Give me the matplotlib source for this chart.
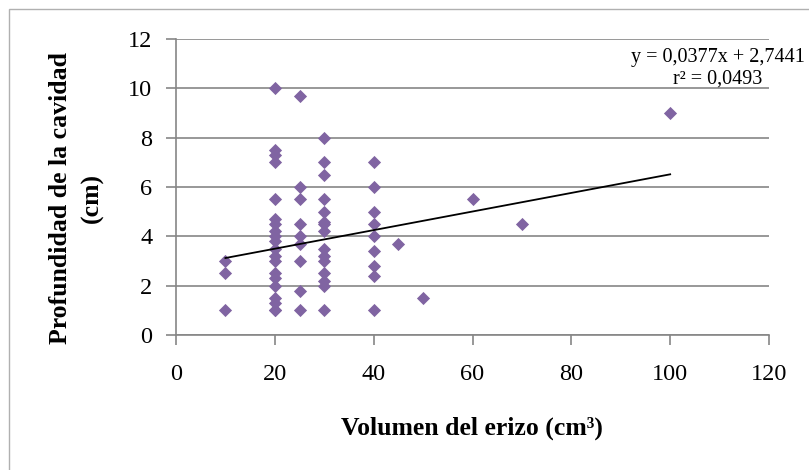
import matplotlib.pyplot as plt
import matplotlib.patches as mpatches
import numpy as np

plt.rcParams['font.family'] = ['Liberation Serif', 'DejaVu Serif']

# volumen del erizo (cm3) and profundidad de la cavidad (cm)
vol_10 = [10, 10, 10]
prof_10 = [3.0, 2.5, 1.0]
vol_20 = [20] * 20
prof_20 = [10.0, 7.5, 7.3, 7.0, 5.5, 4.7, 4.5, 4.2, 4.0, 3.8,
           3.5, 3.2, 3.0, 2.5, 2.3, 2.0, 1.5, 1.3, 1.0, 1.0]
vol_25 = [25] * 9
prof_25 = [9.7, 6.0, 5.5, 4.5, 4.0, 3.7, 3.0, 1.8, 1.0]
vol_30 = [30] * 15
prof_30 = [8.0, 7.0, 6.5, 5.5, 5.0, 4.6, 4.5, 4.2, 3.5, 3.2,
           3.0, 2.5, 2.2, 2.0, 1.0]
vol_40 = [40] * 9
prof_40 = [7.0, 6.0, 5.0, 4.5, 4.0, 3.4, 2.8, 2.4, 1.0]
vol_other = [45, 50, 60, 70, 100]
prof_other = [3.7, 1.5, 5.5, 4.5, 9.0]

slope = 0.0377
intercept = 2.7441
r2 = 0.0493

x = np.array(vol_10 + vol_20 + vol_25 + vol_30 + vol_40 + vol_other)
y = np.array(prof_10 + prof_20 + prof_25 + prof_30 + prof_40 + prof_other)

fig = plt.figure(figsize=(8.09, 4.70), dpi=100)
ax = fig.add_axes([176 / 809, 1 - 335 / 470, 593 / 809, 296 / 470])

grid_c = '#868686'
ax.set_xlim(0, 120)
ax.set_ylim(0, 12)
ax.set_xticks(np.arange(0, 121, 20))
ax.set_yticks(np.arange(0, 13, 2))
ax.yaxis.grid(True, color=grid_c, linewidth=1.2)
ax.set_axisbelow(True)
for s in ['top', 'right']:
    ax.spines[s].set_visible(False)
for s in ['left', 'bottom']:
    ax.spines[s].set_color(grid_c)
    ax.spines[s].set_linewidth(1.2)
ax.tick_params(axis='both', colors=grid_c, length=7, width=1.2, labelsize=17.5,
               labelcolor='black')
ax.tick_params(axis='y', pad=10)
ax.tick_params(axis='x', pad=14)

ax.scatter(x, y, marker='D', s=45, color='#8064A2', zorder=3, linewidths=0)

xf = np.array([x.min(), x.max()])
ax.plot(xf, slope * xf + intercept, color='black', linewidth=1.3, zorder=4)

fig.text(718 / 809, 1 - 68 / 470,
         f'y = {slope:.4f}x + {intercept:.4f}\nr² = {r2:.4f}'.replace('.', ','),
         ha='center', va='center', fontsize=14.5, linespacing=1.15)

ax.set_xlabel('Volumen del erizo (cm³)', fontsize=18.5, fontweight='bold')
ax.xaxis.set_label_coords((472 - 176) / 593, (335 - 417) / 296)
ax.set_ylabel('Profundidad de la cavidad\n(cm)', fontsize=18.5, fontweight='bold',
              linespacing=1.45)
ax.yaxis.set_label_coords((104 - 176) / 593, (335 - 198) / 296)

fig.patches.append(mpatches.Rectangle((9 / 809, -0.05), 1.1, 1 - 9 / 470 + 0.05,
                                      transform=fig.transFigure, fill=False,
                                      edgecolor='#b0b0b0', linewidth=1))

fig.savefig('out.png', dpi=100)
